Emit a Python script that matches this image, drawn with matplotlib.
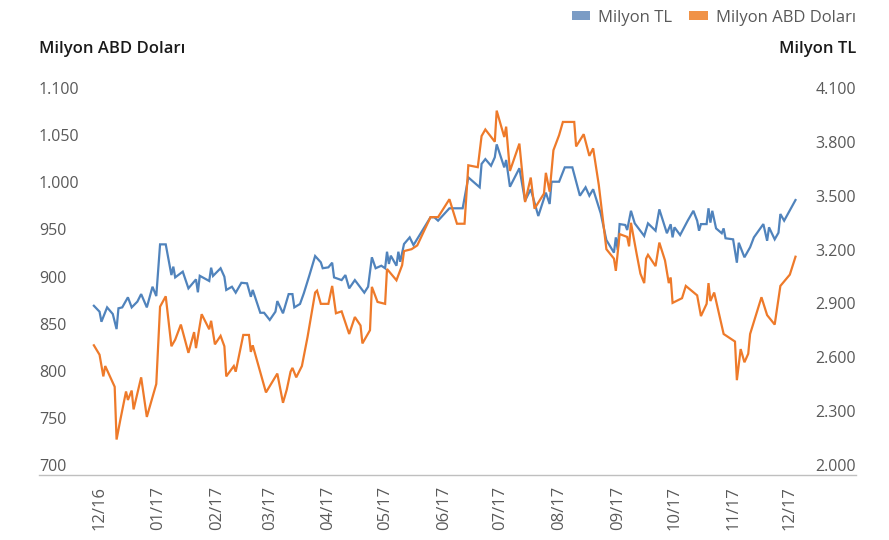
import matplotlib
matplotlib.use("Agg")
import matplotlib.pyplot as plt
import matplotlib.dates as mdates
from matplotlib.patches import Patch
from matplotlib.ticker import FixedLocator, FuncFormatter
import pandas as pd

plt.rcParams["font.family"] = ["Open Sans", "DejaVu Sans"]

# Fund size in million TL (right axis)
tl_dates = [
    "2016-11-28", "2016-12-01", "2016-12-02", "2016-12-05", "2016-12-08", "2016-12-10", "2016-12-11",
    "2016-12-13", "2016-12-16", "2016-12-18", "2016-12-21", "2016-12-23", "2016-12-26", "2016-12-29",
    "2016-12-31", "2017-01-02", "2017-01-05", "2017-01-08", "2017-01-09", "2017-01-10", "2017-01-14",
    "2017-01-17", "2017-01-21", "2017-01-22", "2017-01-23", "2017-01-28", "2017-01-29", "2017-01-30",
    "2017-02-03", "2017-02-05", "2017-02-06", "2017-02-09", "2017-02-11", "2017-02-14", "2017-02-17",
    "2017-02-19", "2017-02-20", "2017-02-24", "2017-02-26", "2017-03-01", "2017-03-04", "2017-03-05",
    "2017-03-08", "2017-03-11", "2017-03-13", "2017-03-14", "2017-03-17", "2017-03-19", "2017-03-22",
    "2017-03-25", "2017-03-28", "2017-03-29", "2017-04-01", "2017-04-03", "2017-04-04", "2017-04-08",
    "2017-04-10", "2017-04-12", "2017-04-15", "2017-04-20", "2017-04-22", "2017-04-24", "2017-04-26",
    "2017-04-29", "2017-05-01", "2017-05-02", "2017-05-03", "2017-05-04", "2017-05-07", "2017-05-08",
    "2017-05-09", "2017-05-11", "2017-05-14", "2017-05-16", "2017-05-25", "2017-05-27", "2017-05-29",
    "2017-06-04", "2017-06-11", "2017-06-14", "2017-06-20", "2017-06-21", "2017-06-23", "2017-06-26",
    "2017-06-28", "2017-06-29", "2017-07-03", "2017-07-04", "2017-07-06", "2017-07-11", "2017-07-14",
    "2017-07-17", "2017-07-21", "2017-07-25", "2017-07-27", "2017-07-28", "2017-08-01", "2017-08-04",
    "2017-08-08", "2017-08-12", "2017-08-15", "2017-08-17", "2017-08-19", "2017-08-23", "2017-08-26",
    "2017-08-30", "2017-08-31", "2017-09-01", "2017-09-02", "2017-09-05", "2017-09-06", "2017-09-08",
    "2017-09-10", "2017-09-15", "2017-09-17", "2017-09-21", "2017-09-23", "2017-09-27", "2017-09-29",
    "2017-09-30", "2017-10-01", "2017-10-04", "2017-10-08", "2017-10-11", "2017-10-13", "2017-10-14",
    "2017-10-15", "2017-10-18", "2017-10-19", "2017-10-20", "2017-10-21", "2017-10-23", "2017-10-26",
    "2017-10-27", "2017-10-28", "2017-11-01", "2017-11-03", "2017-11-04", "2017-11-07", "2017-11-10",
    "2017-11-12", "2017-11-17", "2017-11-19", "2017-11-20", "2017-11-23", "2017-11-25", "2017-11-26",
    "2017-11-28", "2017-12-04",
]
tl_values = [
    2887, 2854, 2798, 2878, 2841, 2757, 2873,
    2878, 2934, 2878, 2910, 2952, 2878, 2993,
    2941, 3229, 3229, 3058, 3105, 3045, 3077,
    2984, 3034, 2962, 3054, 3025, 3099, 3053,
    3096, 3049, 2975, 2993, 2960, 3015, 3012,
    2937, 2975, 2848, 2848, 2808, 2854, 2913,
    2845, 2952, 2952, 2878, 2897, 2956, 3058,
    3164, 3129, 3096, 3101, 3127, 3045, 3030,
    3058, 2984, 3030, 2960, 2993, 3157, 3096,
    3110, 3096, 3188, 3120, 3166, 3110, 3188,
    3132, 3231, 3268, 3225, 3380, 3380, 3361,
    3430, 3430, 3602, 3547, 3677, 3704, 3667,
    3714, 3786, 3658, 3699, 3550, 3653, 3472,
    3536, 3387, 3517, 3454, 3578, 3578, 3658,
    3658, 3500, 3547, 3500, 3536, 3402, 3253,
    3183, 3268, 3198, 3342, 3337, 3309, 3416,
    3346, 3276, 3346, 3305, 3424, 3291, 3341,
    3268, 3324, 3281, 3361, 3416, 3361, 3305,
    3342, 3342, 3430, 3350, 3416, 3318, 3291,
    3318, 3263, 3257, 3127, 3238, 3157, 3213,
    3268, 3342, 3249, 3324, 3257, 3294, 3398,
    3361, 3476,
]

# Fund size in million USD (left axis)
usd_dates = [
    "2016-11-28", "2016-12-01", "2016-12-03", "2016-12-04", "2016-12-09", "2016-12-10", "2016-12-12",
    "2016-12-15", "2016-12-16", "2016-12-18", "2016-12-19", "2016-12-23", "2016-12-26", "2016-12-31",
    "2017-01-02", "2017-01-05", "2017-01-08", "2017-01-10", "2017-01-13", "2017-01-17", "2017-01-20",
    "2017-01-21", "2017-01-24", "2017-01-28", "2017-01-29", "2017-01-31", "2017-02-03", "2017-02-05",
    "2017-02-06", "2017-02-10", "2017-02-11", "2017-02-15", "2017-02-18", "2017-02-19", "2017-02-20",
    "2017-02-27", "2017-03-05", "2017-03-08", "2017-03-10", "2017-03-12", "2017-03-13", "2017-03-15",
    "2017-03-18", "2017-03-21", "2017-03-25", "2017-03-26", "2017-03-28", "2017-04-01", "2017-04-03",
    "2017-04-05", "2017-04-08", "2017-04-12", "2017-04-15", "2017-04-18", "2017-04-19", "2017-04-23",
    "2017-04-24", "2017-04-27", "2017-05-01", "2017-05-02", "2017-05-07", "2017-05-10", "2017-05-11",
    "2017-05-15", "2017-05-18", "2017-05-25", "2017-05-29", "2017-06-04", "2017-06-08", "2017-06-12",
    "2017-06-14", "2017-06-19", "2017-06-21", "2017-06-23", "2017-06-28", "2017-06-29", "2017-07-03",
    "2017-07-04", "2017-07-06", "2017-07-11", "2017-07-14", "2017-07-17", "2017-07-19", "2017-07-24",
    "2017-07-25", "2017-07-27", "2017-07-29", "2017-08-01", "2017-08-03", "2017-08-09", "2017-08-10",
    "2017-08-14", "2017-08-17", "2017-08-19", "2017-08-22", "2017-08-26", "2017-08-30", "2017-08-31",
    "2017-09-02", "2017-09-06", "2017-09-07", "2017-09-08", "2017-09-11", "2017-09-13", "2017-09-15",
    "2017-09-16", "2017-09-17", "2017-09-21", "2017-09-23", "2017-09-26", "2017-09-28", "2017-09-29",
    "2017-09-30", "2017-10-05", "2017-10-07", "2017-10-13", "2017-10-15", "2017-10-18", "2017-10-19",
    "2017-10-20", "2017-10-22", "2017-10-27", "2017-11-02", "2017-11-03", "2017-11-05", "2017-11-07",
    "2017-11-09", "2017-11-10", "2017-11-16", "2017-11-19", "2017-11-23", "2017-11-26", "2017-12-01",
    "2017-12-04",
]
usd_values = [
    827, 817, 794, 805, 783, 727, 748,
    778, 769, 779, 759, 793, 751, 786,
    868, 879, 826, 833, 849, 819, 841,
    824, 860, 844, 853, 828, 837, 826,
    794, 805, 799, 838, 838, 820, 827,
    777, 797, 766, 780, 799, 803, 793,
    805, 836, 883, 885, 871, 871, 890,
    861, 863, 839, 857, 848, 829, 843,
    889, 873, 871, 908, 896, 912, 927,
    929, 933, 963, 963, 982, 956, 956,
    1018, 1016, 1049, 1056, 1043, 1076, 1048,
    1059, 1012, 1041, 979, 1005, 972, 988,
    1010, 990, 1034, 1050, 1064, 1064, 1038,
    1051, 1028, 1036, 997, 929, 919, 906,
    945, 942, 932, 957, 924, 903, 893,
    919, 923, 911, 936, 917, 893, 899,
    872, 877, 890, 880, 858, 871, 893,
    874, 883, 839, 831, 790, 823, 809,
    818, 839, 878, 859, 849, 890, 902,
    921,
]

month_ticks = pd.date_range("2016-12-01", "2017-12-01", freq="MS")
usd_ticks = [700, 750, 800, 850, 900, 950, 1000, 1050, 1100]
tl_ticks = [2000, 2300, 2600, 2900, 3200, 3500, 3800, 4100]

blue = "#5083BC"
orange = "#EE7A2A"
tick_gray = "#595959"


def dotted_thousands(v, _pos=None):
    return f"{int(round(v)):,}".replace(",", ".")


fig = plt.figure(figsize=(8.89, 5.40), dpi=100)
ax = fig.add_axes([0.0439, 0.1204, 0.9190, 0.7166])
ax2 = ax.twinx()

ax2.plot(pd.to_datetime(tl_dates), tl_values, color=blue, lw=1.6, solid_joinstyle="miter")
ax.plot(pd.to_datetime(usd_dates), usd_values, color=orange, lw=1.6, solid_joinstyle="miter")

# orange series above the blue one
ax.set_zorder(ax2.get_zorder() + 1)
ax.patch.set_visible(False)

ax.set_xlim(pd.Timestamp("2016-10-30"), pd.Timestamp("2018-01-05"))
ax.set_ylim(689.4, 1100)
ax2.set_ylim(1944.3, 4100)

for a in (ax, ax2):
    for s in a.spines.values():
        s.set_visible(False)
ax.spines["bottom"].set_visible(True)
ax.spines["bottom"].set_color("#BFBFBF")
ax.spines["bottom"].set_linewidth(1.0)

ax.xaxis.set_major_locator(FixedLocator(mdates.date2num(month_ticks)))
ax.xaxis.set_major_formatter(mdates.DateFormatter("%m/%y"))
ax.tick_params(axis="x", length=0, pad=8, labelsize=12, labelcolor=tick_gray, rotation=90)

ax.yaxis.set_major_locator(FixedLocator(usd_ticks))
ax.yaxis.set_major_formatter(FuncFormatter(dotted_thousands))
ax.tick_params(axis="y", length=0, pad=0, labelsize=11.5, labelcolor=tick_gray)
for lbl in ax.get_yticklabels():
    lbl.set_horizontalalignment("left")

ax2.yaxis.set_major_locator(FixedLocator(tl_ticks))
ax2.yaxis.set_major_formatter(FuncFormatter(dotted_thousands))
ax2.tick_params(axis="y", length=0, pad=0, labelsize=11.5, labelcolor=tick_gray)
for lbl in ax2.get_yticklabels():
    lbl.set_horizontalalignment("right")

fig.text(0.0439, 1 - 49 / 540, "Milyon ABD Doları", ha="left", va="center",
         fontsize=12, fontweight="semibold", color="#1a1a1a")
fig.text(0.9629, 1 - 49 / 540, "Milyon TL", ha="right", va="center",
         fontsize=12, fontweight="semibold", color="#1a1a1a")

handles = [Patch(facecolor="#7B9CC5", edgecolor="none", label="Milyon TL"),
           Patch(facecolor="#F09247", edgecolor="none", label="Milyon ABD Doları")]
fig.legend(handles=handles, loc="upper right", bbox_to_anchor=(0.9629, 0.982), ncol=2,
           frameon=False, fontsize=12, labelcolor=tick_gray, handlelength=1.1,
           handleheight=0.45, handletextpad=0.5, columnspacing=1.0,
           borderaxespad=0.0, borderpad=0.0)

fig.savefig("out.png", dpi=100)
